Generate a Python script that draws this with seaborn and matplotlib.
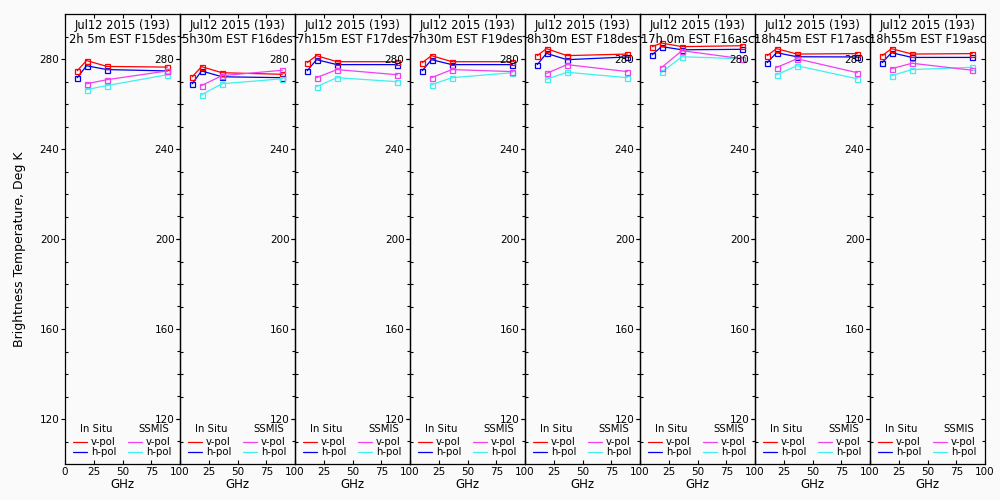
import matplotlib
matplotlib.use("Agg")
import matplotlib.pyplot as plt
from matplotlib.ticker import FixedLocator, NullLocator
from matplotlib.lines import Line2D
import seaborn as sns
import pandas as pd

sns.set_style("ticks")
plt.rcParams['font.family'] = ['DejaVu Sans']
plt.rcParams['text.color'] = 'black'
plt.rcParams['axes.labelcolor'] = 'black'
plt.rcParams['xtick.color'] = 'black'
plt.rcParams['ytick.color'] = 'black'

# ---------------- data ----------------
insitu_freq = [10.65, 18.7, 36.5, 89.0]
ssmis_freq = [18.7, 36.5, 89.0]

date_label = "Jul12 2015 (193)"
times = ["2h 5m", "5h30m", "7h15m", "7h30m", "8h30m", "17h 0m", "18h45m", "18h55m"]
sats = ["F15des", "F16des", "F17des", "F19des", "F18des", "F16asc", "F17asc", "F19asc"]

insitu_v = [
    [274.8, 279.3, 276.7, 276.4],
    [272.1, 276.6, 273.9, 273.2],
    [278.4, 281.5, 278.8, 278.8],
    [278.4, 281.5, 278.8, 278.8],
    [281.5, 284.6, 281.5, 282.2],
    [285.5, 287.1, 285.5, 285.9],
    [281.5, 284.6, 282.2, 282.4],
    [281.5, 284.6, 282.2, 282.4],
]
insitu_h = [
    [271.7, 277.0, 275.3, 274.7],
    [269.0, 274.7, 272.1, 271.7],
    [274.8, 279.7, 277.5, 277.5],
    [274.8, 279.7, 277.5, 277.5],
    [277.5, 282.5, 279.7, 280.9],
    [281.9, 285.5, 284.1, 284.3],
    [278.4, 282.8, 281.0, 280.9],
    [278.4, 282.8, 280.7, 280.7],
]
ssmis_v = [
    [269.0, 270.8, 274.7],
    [268.2, 272.6, 275.0],
    [271.7, 275.3, 273.0],
    [271.7, 275.3, 274.4],
    [273.6, 277.5, 274.4],
    [276.2, 283.7, 280.1],
    [276.2, 280.1, 273.9],
    [275.7, 278.1, 275.0],
]
ssmis_h = [
    [266.4, 268.2, 273.0],
    [264.1, 269.0, 271.2],
    [267.7, 271.7, 269.9],
    [268.6, 271.7, 273.9],
    [271.0, 274.1, 271.7],
    [274.1, 281.0, 280.1],
    [273.0, 277.0, 271.2],
    [272.6, 275.3, 276.3],
]

x_ticks = [0, 25, 50, 75, 100]
y_ticks = [120, 160, 200, 240, 280]
y_minor = [v for v in range(110, 300, 10) if v not in y_ticks]

c_iv, c_ih, c_sv, c_sh = "#ff0000", "#0000ee", "#f040f0", "#40f0f0"
bg = "#fafafa"

fig = plt.figure(figsize=(10, 5), dpi=100, facecolor=bg)
n = len(times)
left0, w, bottom, h = 0.065, 0.115, 0.072, 0.9

for i in range(n):
    ax = fig.add_axes([left0 + i * w, bottom, w, h])
    ax.set_facecolor("none")
    # right-side ticks (inward) drawn by a twin axis
    tw = ax.twinx()
    tw.set_ylim(100, 300)
    tw.yaxis.set_major_locator(FixedLocator(y_ticks))
    tw.yaxis.set_minor_locator(FixedLocator(y_minor))
    tw.tick_params(axis="y", which="major", direction="in", length=3, width=0.8,
                   labelright=False, right=True, left=False)
    tw.tick_params(axis="y", which="minor", direction="in", length=2.3, width=0.8,
                   right=True, left=False)
    for s in tw.spines.values():
        s.set_visible(False)

    series = [
        (insitu_h[i], insitu_freq, c_ih),
        (insitu_v[i], insitu_freq, c_iv),
        (ssmis_h[i], ssmis_freq, c_sh),
        (ssmis_v[i], ssmis_freq, c_sv),
    ]
    for vals, fr, col in series:
        df = pd.DataFrame({"GHz": fr, "TB": vals})
        sns.lineplot(data=df, x="GHz", y="TB", ax=ax, color=col, lw=0.9,
                     marker="s", markersize=3.6, markerfacecolor="none",
                     markeredgecolor=col, markeredgewidth=0.9, sort=False)
    ax.set_xlim(0, 100)
    ax.set_ylim(100, 300)
    ax.xaxis.set_major_locator(FixedLocator(x_ticks))
    ax.set_xticklabels([str(t) if (t != 0 or i == 0) else "" for t in x_ticks])
    ax.yaxis.set_major_locator(FixedLocator(y_ticks))
    ax.yaxis.set_minor_locator(FixedLocator(y_minor))
    ax.tick_params(axis="x", which="major", direction="in", top=True, bottom=True,
                   length=3, width=0.8, labelsize=7.5, pad=2)
    ax.tick_params(axis="y", which="major", direction="out", left=True, right=False,
                   length=3, width=0.8, labelsize=7.5, pad=1)
    ax.tick_params(axis="y", which="minor", direction="in", left=True, right=False,
                   length=2.3, width=0.8)
    for s in ax.spines.values():
        s.set_linewidth(0.9)
        s.set_color("black")
    ax.set_xlabel("GHz", fontsize=8.5, labelpad=1)
    ax.set_ylabel("")
    ax.text(0.5, 0.975, date_label, transform=ax.transAxes, ha="center", va="center",
            fontsize=8.3)
    ax.text(0.5, 0.944, f"{times[i]} EST {sats[i]}", transform=ax.transAxes,
            ha="center", va="center", fontsize=8.3)
    # legend
    ax.text(0.13, 0.078, "In Situ", transform=ax.transAxes, ha="left", va="center", fontsize=7.3)
    ax.text(0.635, 0.078, "SSMIS", transform=ax.transAxes, ha="left", va="center", fontsize=7.3)
    for (x0, ytxt, col, lab) in [(0.07, 0.049, c_iv, "v-pol"), (0.07, 0.027, c_ih, "h-pol"),
                                 (0.548, 0.049, c_sv, "v-pol"), (0.548, 0.027, c_sh, "h-pol")]:
        ax.add_line(Line2D([x0, x0 + 0.12], [ytxt, ytxt], transform=ax.transAxes,
                           color=col, lw=0.9))
        ax.text(x0 + 0.155, ytxt, lab, transform=ax.transAxes, ha="left", va="center",
                fontsize=7.3)

fig.text(0.02, 0.502, "Brightness Temperature, Deg K", rotation=90, ha="center",
         va="center", fontsize=9)

fig.savefig("out.png", dpi=100, facecolor=bg)
